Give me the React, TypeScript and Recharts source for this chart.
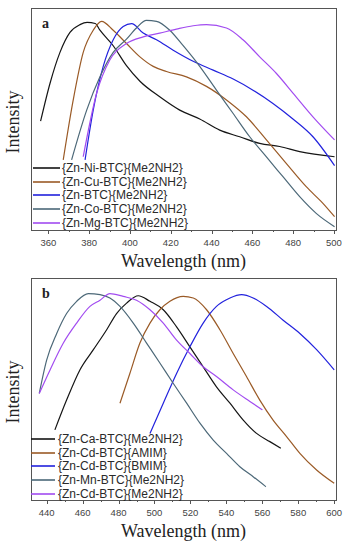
import { LineChart, Line, XAxis, YAxis } from 'recharts'

// [wavelength nm, normalised intensity]
const znNi = [
  [356.2, 0.49], [360.8, 0.66], [365.7, 0.8], [370.6, 0.89], [375.5, 0.925], [379, 0.935],
  [383, 0.93], [385.3, 0.9], [391.8, 0.83], [398.3, 0.74], [404.9, 0.67], [414.6, 0.6],
  [424.4, 0.54], [434.2, 0.5], [444, 0.45], [453.8, 0.42], [463.6, 0.39], [473.4, 0.376],
  [483.2, 0.353], [500.3, 0.33],
]
const znCu = [
  [367.3, 0.316], [372.2, 0.586], [377.1, 0.8], [382, 0.9], [386.1, 0.94], [391.8, 0.9],
  [398.3, 0.84], [404.9, 0.78], [411.4, 0.737], [417.9, 0.714], [427.7, 0.69], [437.5, 0.647],
  [447.3, 0.586], [457.1, 0.51], [466.9, 0.406], [476.6, 0.3], [486.4, 0.195], [494.6, 0.12],
  [500.3, 0.06],
]
const znBtc = [
  [378, 0.316], [382, 0.54], [386.9, 0.737], [391.8, 0.857], [396.7, 0.917], [400.8, 0.93],
  [406.5, 0.887], [413, 0.857], [421.2, 0.81], [431, 0.76], [440.8, 0.72], [450.6, 0.68],
  [460.3, 0.63], [470.1, 0.57], [479.9, 0.5], [489.7, 0.42], [500.3, 0.29],
]
const znCo = [
  [371.4, 0.316], [378.8, 0.54], [385.3, 0.69], [391.8, 0.8], [398.3, 0.86], [403.2, 0.91],
  [408.1, 0.944], [413, 0.94], [419.5, 0.9], [426.1, 0.83], [434.2, 0.737], [442.4, 0.63],
  [450.5, 0.526], [458.7, 0.42], [466.8, 0.33], [475, 0.24], [483.2, 0.15], [491.3, 0.075],
  [500.3, 0.015],
]
const znMg = [
  [377.1, 0.33], [383.7, 0.617], [390.2, 0.767], [398.3, 0.84], [406.5, 0.87], [414.6, 0.887],
  [422.8, 0.905], [431, 0.92], [437.5, 0.925], [447.3, 0.91], [455.4, 0.857], [463.6, 0.78],
  [471.7, 0.706], [479.9, 0.617], [489.7, 0.51], [500.3, 0.406],
]

const znCa = [
  [444.6, 0.316], [451.1, 0.45], [458.5, 0.586], [466, 0.677], [473.4, 0.767], [478.9, 0.84],
  [484.5, 0.887], [491, 0.92], [497.5, 0.895], [504.9, 0.857], [512.3, 0.78], [519.7, 0.69],
  [527.1, 0.6], [534.5, 0.51], [542, 0.436], [549.4, 0.36], [556.8, 0.3], [564.2, 0.263],
  [570.3, 0.233],
]
const znCdAmim = [
  [480.8, 0.436], [486.3, 0.57], [491.9, 0.707], [497.5, 0.797], [503, 0.857], [508.6, 0.895],
  [516, 0.917], [521.6, 0.91], [529, 0.857], [536.4, 0.767], [543.8, 0.66], [551.2, 0.556],
  [558.6, 0.45], [566, 0.36], [573.5, 0.286], [580.9, 0.21], [590.2, 0.135], [600, 0.075],
]
const znCdBmim = [
  [497.5, 0.3], [504.9, 0.436], [512.3, 0.57], [519.7, 0.69], [527.1, 0.797], [534.5, 0.872],
  [542, 0.91], [548.5, 0.925], [554.9, 0.91], [562.4, 0.872], [571.6, 0.81], [580.9, 0.75],
  [590.2, 0.677], [600, 0.586],
]
const znMn = [
  [435.9, 0.48], [440, 0.63], [445.6, 0.75], [451.1, 0.84], [456.7, 0.895], [463.2, 0.93],
  [469.7, 0.925], [475.2, 0.91], [480.8, 0.872], [488.2, 0.797], [495.6, 0.707], [503, 0.617],
  [510.4, 0.526], [517.9, 0.436], [525.3, 0.346], [532.7, 0.27], [540.1, 0.21], [547.5, 0.15],
  [554.9, 0.105], [562, 0.06],
]
const znCdMe = [
  [435.9, 0.48], [441.9, 0.586], [449.3, 0.707], [456.7, 0.797], [464.1, 0.872], [469.7, 0.9],
  [475.2, 0.93], [482.6, 0.917], [490, 0.9], [497.5, 0.857], [504.9, 0.797], [512.3, 0.72],
  [519.7, 0.66], [527.1, 0.6], [534.5, 0.556], [543.8, 0.496], [553.1, 0.444], [560.1, 0.406],
]

const ticksA = [360, 370, 380, 390, 400, 410, 420, 430, 440, 450, 460, 470, 480, 490, 500]
const ticksB = [440, 450, 460, 470, 480, 490, 500, 510, 520, 530, 540, 550, 560, 570, 580, 590, 600]

const seriesA = [
  { name: '{Zn-Ni-BTC}{Me2NH2}', color: '#151515', points: znNi },
  { name: '{Zn-Cu-BTC}{Me2NH2}', color: '#9a5a26', points: znCu },
  { name: '{Zn-BTC}{Me2NH2}', color: '#2222dd', points: znBtc },
  { name: '{Zn-Co-BTC}{Me2NH2}', color: '#4c6878', points: znCo },
  { name: '{Zn-Mg-BTC}{Me2NH2}', color: '#a24cf0', points: znMg },
]
const seriesB = [
  { name: '{Zn-Ca-BTC}{Me2NH2}', color: '#151515', points: znCa },
  { name: '{Zn-Cd-BTC}{AMIM}', color: '#9a5a26', points: znCdAmim },
  { name: '{Zn-Cd-BTC}{BMIM}', color: '#2222dd', points: znCdBmim },
  { name: '{Zn-Mn-BTC}{Me2NH2}', color: '#4c6878', points: znMn },
  { name: '{Zn-Cd-BTC}{Me2NH2}', color: '#a24cf0', points: znCdMe },
]

const serif = '"Liberation Serif", "Times New Roman", serif'
const sans = '"Liberation Sans", Arial, sans-serif'
const frame = '#555'

type Series = { name: string; color: string; points: number[][] }

function Tick({ x, y, payload }: any) {
  const major = payload.value % 20 === 0
  const px = Math.round(x) + 0.5
  return (
    <g>
      <line x1={px} x2={px} y1={y} y2={y + (major ? 4 : 2)} stroke={frame} strokeWidth={1} />
      {major && (
        <text x={x} y={y + 16} textAnchor="middle" fontSize={9.5} fill="#444" fontFamily={sans}>
          {payload.value}
        </text>
      )}
    </g>
  )
}

function Key({ series, left, top, lineW, gap }: { series: Series[]; left: number; top: number; lineW: number; gap: number }) {
  return (
    <div style={{ position: 'absolute', left, top }}>
      {series.map((s) => (
        <div key={s.name} style={{ display: 'flex', alignItems: 'center', height: 13.7 }}>
          <svg width={lineW} height={4}>
            <line x1={0} x2={lineW} y1={2} y2={2} stroke={s.color} strokeWidth={1.6} />
          </svg>
          <span style={{ marginLeft: gap, fontSize: 12, fontFamily: sans, color: '#2a2a2a', whiteSpace: 'nowrap' }}>
            {s.name}
          </span>
        </div>
      ))}
    </div>
  )
}

interface PanelProps {
  letter: string
  domain: [number, number]
  ticks: number[]
  series: Series[]
  legendLeft: number
  legendTop: number
  lineW: number
  gap: number
}

function Panel({ letter, domain, ticks, series, legendLeft, legendTop, lineW, gap }: PanelProps) {
  const titleStyle = { position: 'absolute' as const, fontFamily: serif, fontSize: 18, lineHeight: '18px', color: '#222' }
  return (
    <div style={{ position: 'relative', width: 350, height: 270 }}>
      <LineChart width={350} height={270} margin={{ top: 8, right: 14, bottom: 0, left: 0 }}>
        <XAxis
          dataKey="x"
          type="number"
          domain={domain}
          ticks={ticks}
          interval={0}
          tickSize={0}
          tickMargin={0}
          tickLine={false}
          tick={<Tick />}
          height={40}
          axisLine={false}
        />
        <YAxis type="number" domain={[0, 1]} width={31} tick={false} tickLine={false} axisLine={false} />
        {series.map((s) => (
          <Line
            key={s.name}
            data={s.points.map(([x, v]) => ({ x, v }))}
            dataKey="v"
            type="monotone"
            stroke={s.color}
            strokeWidth={1.2}
            dot={false}
            isAnimationActive={false}
          />
        ))}
      </LineChart>
      {/* plot frame */}
      <div
        style={{
          position: 'absolute', left: 31, top: 8, width: 306, height: 223,
          boxSizing: 'border-box', border: `1px solid ${frame}`, pointerEvents: 'none',
        }}
      />
      <div style={{ position: 'absolute', left: 42, top: 17, fontFamily: serif, fontSize: 14, lineHeight: '14px', fontWeight: 'bold', color: '#222' }}>
        {letter}
      </div>
      <div style={{ ...titleStyle, left: 31, top: 252, width: 305, textAlign: 'center' }}>Wavelength (nm)</div>
      <div style={{ ...titleStyle, left: -37, top: 113, width: 100, height: 18, textAlign: 'center', transform: 'rotate(-90deg)' }}>
        Intensity
      </div>
      <Key series={series} left={legendLeft} top={legendTop} lineW={lineW} gap={gap} />
    </div>
  )
}

export default function App() {
  return (
    <div style={{ position: 'absolute', left: 0, top: 0, width: 350, height: 550, background: '#fff' }}>
      <Panel letter="a" domain={[351.5, 501]} ticks={ticksA} series={seriesA} legendLeft={33} legendTop={161} lineW={27} gap={2} />
      <Panel letter="b" domain={[431.3, 601]} ticks={ticksB} series={seriesB} legendLeft={31} legendTop={162} lineW={24} gap={3} />
    </div>
  )
}
